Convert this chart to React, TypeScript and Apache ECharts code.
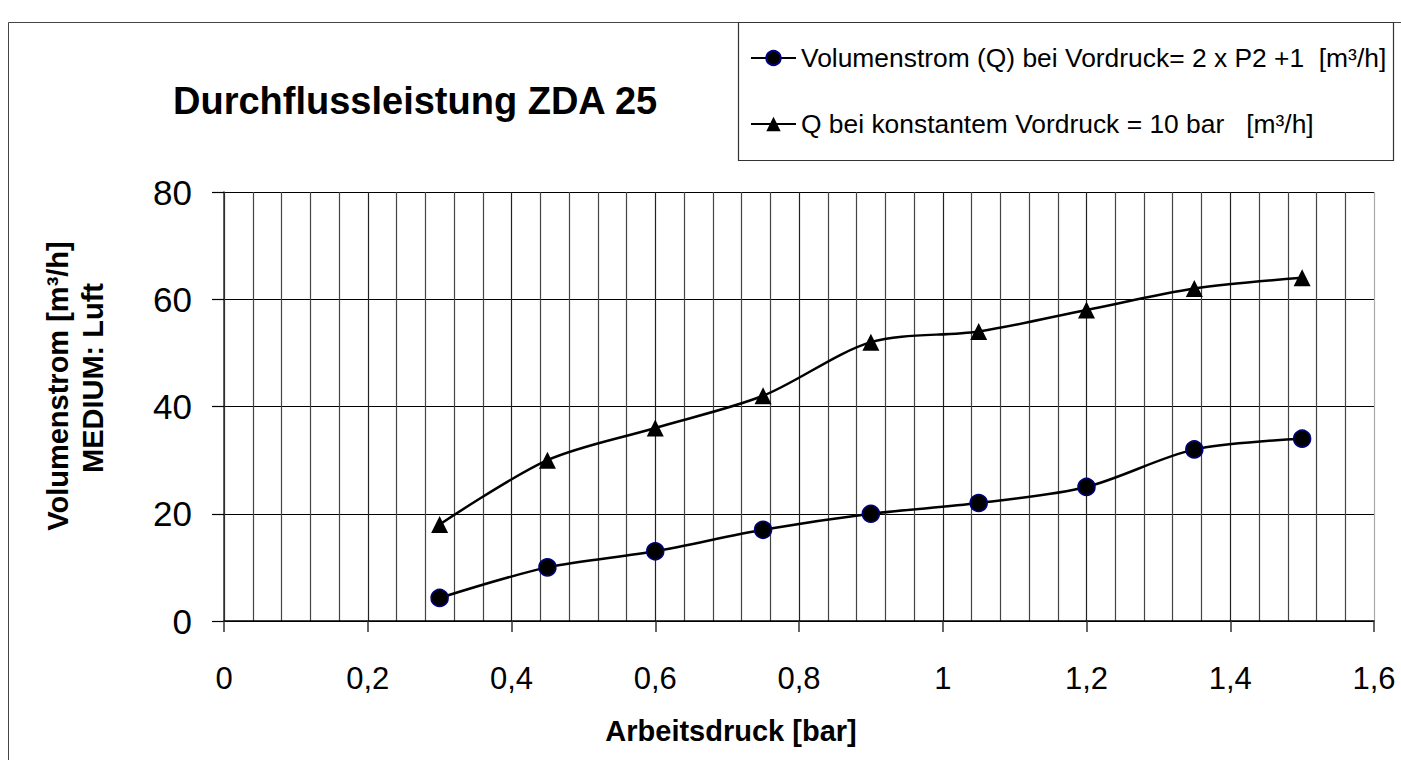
import React, { useEffect, useRef } from "react";
import * as echarts from "echarts";

const pressure = [0.3, 0.45, 0.6, 0.75, 0.9, 1.05, 1.2, 1.35, 1.5];
const flowVariable = [4.3, 10, 13, 17, 20, 22, 25, 32, 34];
const flowConstant = [18, 30, 36, 42, 52, 54, 58, 62, 64];
const seriesNames = [
  "Volumenstrom (Q) bei Vordruck= 2 x P2 +1  [m³/h]",
  "Q bei konstantem Vordruck = 10 bar   [m³/h]",
];
const titleText = "Durchflussleistung ZDA 25";
const xAxisName = "Arbeitsdruck [bar]";
const yAxisNameLines = ["Volumenstrom [m³/h]", "MEDIUM: Luft"];

const FONT = "'Liberation Sans', Arial, sans-serif";

export default function App() {
  const ref = useRef<HTMLDivElement>(null);
  useEffect(() => {
    if (!ref.current) return;
    const chart = echarts.init(ref.current, undefined, { renderer: "svg" });
    const toPairs = (ys: number[]) => pressure.map((x, i) => [x, ys[i]]);
    chart.setOption({
      animation: false,
      backgroundColor: "#fff",
      textStyle: { fontFamily: FONT },
      title: {
        text: titleText,
        left: 168,
        top: 77,
        textStyle: { fontFamily: FONT, fontSize: 38, fontWeight: "bold", color: "#000" },
      },
      legend: {
        orient: "vertical",
        left: 750,
        top: 45,
        padding: 0,
        itemWidth: 45,
        itemHeight: 18,
        itemGap: 40,
        data: seriesNames,
        textStyle: { fontFamily: FONT, fontSize: 26.4, color: "#000" },
      },
      grid: { left: 224, right: 27, top: 192, bottom: 139, containLabel: false },
      xAxis: {
        type: "value",
        min: 0,
        max: 1.6,
        interval: 0.2,
        axisLine: { show: true, onZero: false, lineStyle: { color: "#000", width: 1.5 } },
        axisTick: { show: true, length: 11, lineStyle: { color: "#333", width: 1.5 } },
        axisLabel: {
          fontFamily: FONT,
          fontSize: 31,
          color: "#000",
          margin: 42,
          formatter: (v: number) => String(Number(v.toFixed(1))).replace(".", ","),
        },
        splitLine: {
          show: true,
          lineStyle: {
            color: ["#222", "#222", "#222", "#222", "#222", "#222", "#222", "#222", "#aaa"],
            width: 1.2,
          },
        },
        minorTick: { show: false, splitNumber: 5 },
        minorSplitLine: { show: true, lineStyle: { color: "#444", width: 1.2 } },
      },
      yAxis: {
        type: "value",
        min: 0,
        max: 80,
        interval: 20,
        axisLine: { show: true, lineStyle: { color: "#333", width: 1.5 } },
        axisTick: { show: true, length: 12, lineStyle: { color: "#000", width: 1.2 } },
        axisLabel: { fontFamily: FONT, fontSize: 35, color: "#000", margin: 32 },
        splitLine: { show: true, lineStyle: { color: "#000", width: 1.2 } },
      },
      graphic: [
        {
          type: "rect",
          shape: { x: 8.5, y: 22.5, width: 1500, height: 900 },
          style: { fill: "none", stroke: "#444", lineWidth: 1 },
          silent: true,
        },
        {
          type: "rect",
          shape: { x: 738.5, y: 22.5, width: 655, height: 138 },
          style: { fill: "none", stroke: "#333", lineWidth: 1.2 },
          silent: true,
        },
        {
          type: "text",
          x: 58,
          y: 386,
          rotation: Math.PI / 2,
          style: {
            text: yAxisNameLines[0],
            fontFamily: FONT,
            fontSize: 29,
            fontWeight: "bold",
            fill: "#000",
            align: "center",
            verticalAlign: "middle",
          },
        },
        {
          type: "text",
          x: 93,
          y: 378,
          rotation: Math.PI / 2,
          style: {
            text: yAxisNameLines[1],
            fontFamily: FONT,
            fontSize: 29,
            fontWeight: "bold",
            fill: "#000",
            align: "center",
            verticalAlign: "middle",
          },
        },
        {
          type: "text",
          x: 731,
          y: 731,
          style: {
            text: xAxisName,
            fontFamily: FONT,
            fontSize: 29,
            fontWeight: "bold",
            fill: "#000",
            align: "center",
            verticalAlign: "middle",
          },
        },
      ],
      series: [
        {
          name: seriesNames[0],
          type: "line",
          data: toPairs(flowVariable),
          smooth: 0.3,
          symbol: "circle",
          symbolSize: 17,
          lineStyle: { color: "#000", width: 2.5 },
          itemStyle: { color: "#000", borderColor: "#000080", borderWidth: 1.5 },
        },
        {
          name: seriesNames[1],
          type: "line",
          data: toPairs(flowConstant),
          smooth: 0.3,
          symbol: "triangle",
          symbolSize: 17,
          lineStyle: { color: "#000", width: 2.5 },
          itemStyle: { color: "#000" },
        },
      ],
    });
    return () => chart.dispose();
  }, []);
  return (
    <div
      ref={ref}
      style={{ position: "fixed", left: 0, top: 0, width: 1401, height: 760 }}
    />
  );
}
